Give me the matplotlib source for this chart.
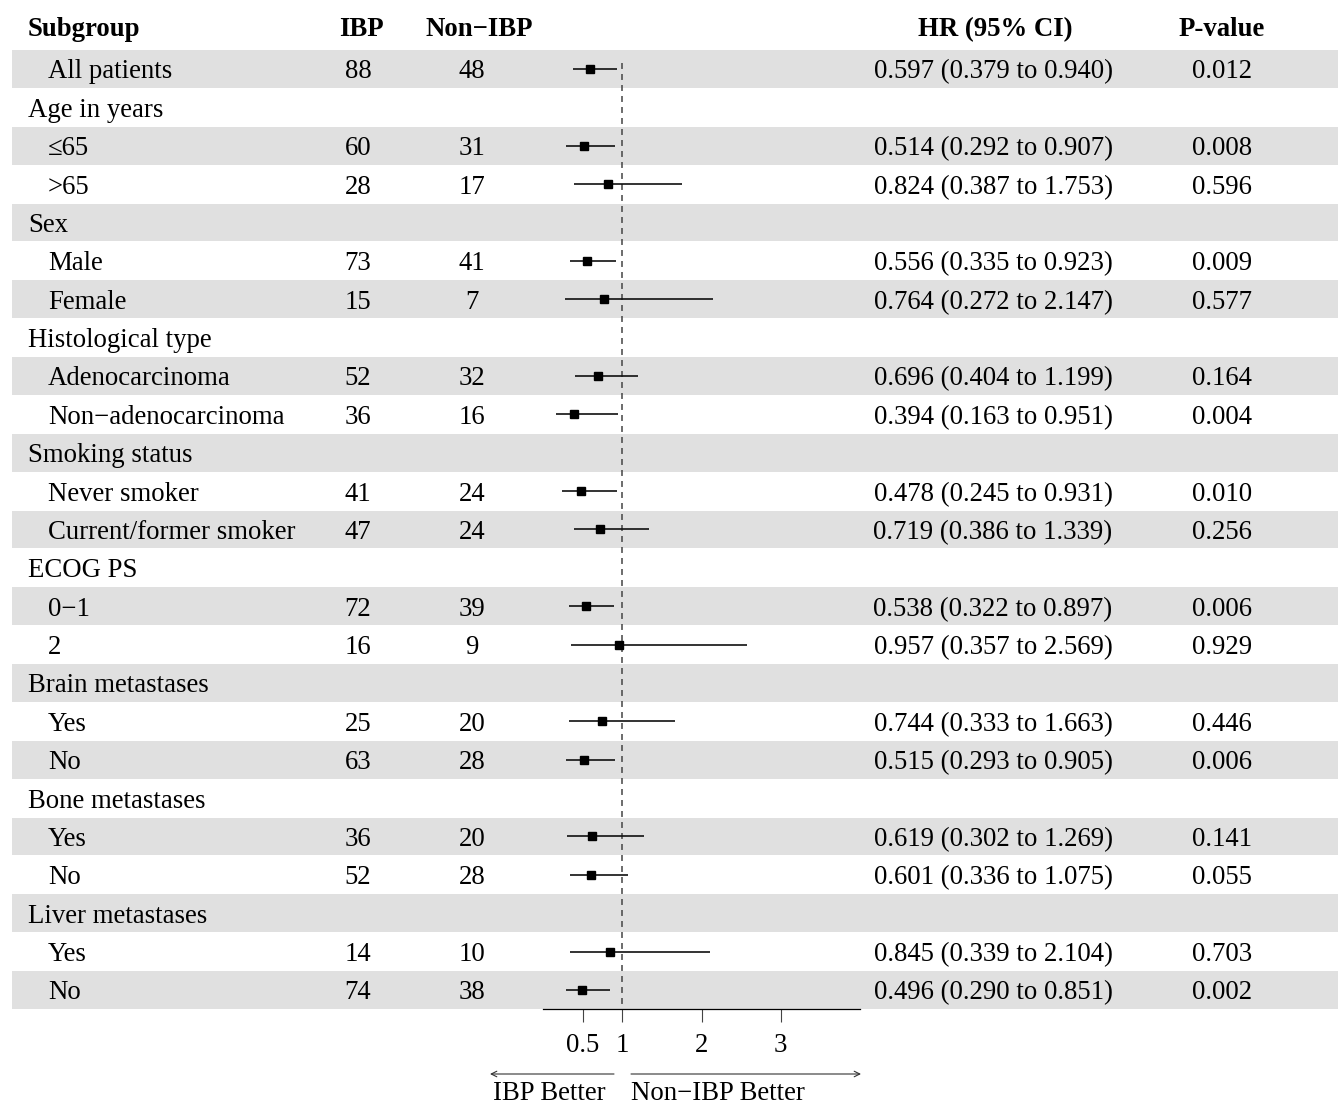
import matplotlib
matplotlib.use("Agg")
import matplotlib.pyplot as plt
from matplotlib.patches import Rectangle
from matplotlib.transforms import blended_transform_factory

plt.rcParams['font.family'] = ['Liberation Serif', 'DejaVu Serif']

# ---------------- data ----------------
labels = ["All patients", "Age in years", "\u226465", ">65", "Sex", "Male", "Female",
          "Histological type", "Adenocarcinoma", "Non\u2212adenocarcinoma",
          "Smoking status", "Never smoker", "Current/former smoker",
          "ECOG PS", "0\u22121", "2", "Brain metastases", "Yes", "No",
          "Bone metastases", "Yes", "No", "Liver metastases", "Yes", "No"]
is_group = [False, True, False, False, True, False, False,
            True, False, False, True, False, False,
            True, False, False, True, False, False,
            True, False, False, True, False, False]
ibp_n = [88, None, 60, 28, None, 73, 15, None, 52, 36, None, 41, 47,
         None, 72, 16, None, 25, 63, None, 36, 52, None, 14, 74]
non_ibp_n = [48, None, 31, 17, None, 41, 7, None, 32, 16, None, 24, 24,
             None, 39, 9, None, 20, 28, None, 20, 28, None, 10, 38]
hr = [0.597, None, 0.514, 0.824, None, 0.556, 0.764, None, 0.696, 0.394, None, 0.478, 0.719,
      None, 0.538, 0.957, None, 0.744, 0.515, None, 0.619, 0.601, None, 0.845, 0.496]
ci_lo = [0.379, None, 0.292, 0.387, None, 0.335, 0.272, None, 0.404, 0.163, None, 0.245, 0.386,
         None, 0.322, 0.357, None, 0.333, 0.293, None, 0.302, 0.336, None, 0.339, 0.290]
ci_hi = [0.940, None, 0.907, 1.753, None, 0.923, 2.147, None, 1.199, 0.951, None, 0.931, 1.339,
         None, 0.897, 2.569, None, 1.663, 0.905, None, 1.269, 1.075, None, 2.104, 0.851]
p_values = ["0.012", None, "0.008", "0.596", None, "0.009", "0.577", None, "0.164", "0.004",
            None, "0.010", "0.256", None, "0.006", "0.929", None, "0.446", "0.006", None,
            "0.141", "0.055", None, "0.703", "0.002"]
headers = ["Subgroup", "IBP", "Non\u2212IBP", "HR (95% CI)", "P-value"]
xticks = [0.5, 1, 2, 3]
xtick_labels = ["0.5", "1", "2", "3"]
arrow_labels = ["IBP Better", "Non\u2212IBP Better"]

# ---------------- layout ----------------
W, H = 1338, 1109
FS = 19.3
fig = plt.figure(figsize=(W / 100, H / 100), dpi=100)
n = len(labels)
row0, rowh = 69.0, 38.375
bottom_px = row0 + (n - 0.5) * rowh
top_px = row0 - 1.5 * rowh
axl, axr = 543, 860
ax = fig.add_axes([axl / W, 1 - bottom_px / H, (axr - axl) / W, (bottom_px - top_px) / H])
ax.patch.set_visible(False)
ax.set_autoscale_on(False)
ax.set_xlim(0, 4)
ax.set_ylim(n - 0.5, -1.5)

tr = blended_transform_factory(fig.transFigure, ax.transData)
DY = 3.0 / rowh  # text vertical offset

def px2data_x(px):
    return (px - axl) / (axr - axl) * 4.0

def px2row(py):
    return (py - row0) / rowh

# background bands
for i in range(n):
    if i % 2 == 0:
        ax.add_patch(Rectangle((12 / W, i - 0.49), (W - 12) / W, 0.98, transform=tr,
                               facecolor="#e0e0e0", edgecolor="none", clip_on=False, zorder=0))

txt = dict(fontsize=FS, color="black", va="center", transform=tr)
# headers
hy = px2row(27) + DY
ax.text(28 / W, hy, headers[0], ha="left", fontweight="bold", **txt)
ax.text(361 / W, hy, headers[1], ha="center", fontweight="bold", **txt)
ax.text(479 / W, hy, headers[2], ha="center", fontweight="bold", **txt)
ax.text(995 / W, hy, headers[3], ha="center", fontweight="bold", **txt)
ax.text(1222 / W, hy, headers[4], ha="center", fontweight="bold", **txt)

for i in range(n):
    ty = i + DY
    if is_group[i]:
        ax.text(28 / W, ty, labels[i], ha="left", **txt)
        continue
    ax.text(48 / W, ty, labels[i], ha="left", **txt)
    ax.text(358 / W, ty, str(ibp_n[i]), ha="center", **txt)
    ax.text(472 / W, ty, str(non_ibp_n[i]), ha="center", **txt)
    ax.text(993 / W, ty, f"{hr[i]:.3f} ({ci_lo[i]:.3f} to {ci_hi[i]:.3f})", ha="center", **txt)
    ax.text(1222 / W, ty, p_values[i], ha="center", **txt)
    ax.plot([ci_lo[i], ci_hi[i]], [i, i], color="#111111", lw=1.2, zorder=3, solid_capstyle="butt")
    ax.plot([hr[i]], [i], marker="s", ms=5.8, color="black", zorder=4, linestyle="none")

# reference line
ax.plot([1, 1], [-0.15, n - 0.5], color="#444444", lw=1.1, linestyle=(0, (3.9, 3.3)), zorder=2)

# axis
for s in ["top", "left", "right"]:
    ax.spines[s].set_visible(False)
ax.spines["bottom"].set_linewidth(0.9)
ax.set_yticks([])
ax.set_xticks(xticks)
ax.set_xticklabels(xtick_labels, fontsize=FS)
ax.tick_params(axis="x", length=9, width=0.8, pad=8, color="#444444")

# arrows
ay = px2row(1074)
ax.annotate("", xy=(px2data_x(490), ay), xytext=(px2data_x(614), ay), xycoords="data",
            arrowprops=dict(arrowstyle="->", lw=0.8, color="#333333", shrinkA=0, shrinkB=0),
            annotation_clip=False)
ax.annotate("", xy=(px2data_x(861), ay), xytext=(px2data_x(631), ay), xycoords="data",
            arrowprops=dict(arrowstyle="->", lw=0.8, color="#333333", shrinkA=0, shrinkB=0),
            annotation_clip=False)
ly = px2row(1094)
ax.text(606 / W, ly, arrow_labels[0], ha="right", **txt)
ax.text(631 / W, ly, arrow_labels[1], ha="left", **txt)

fig.savefig("out.png", dpi=100)
